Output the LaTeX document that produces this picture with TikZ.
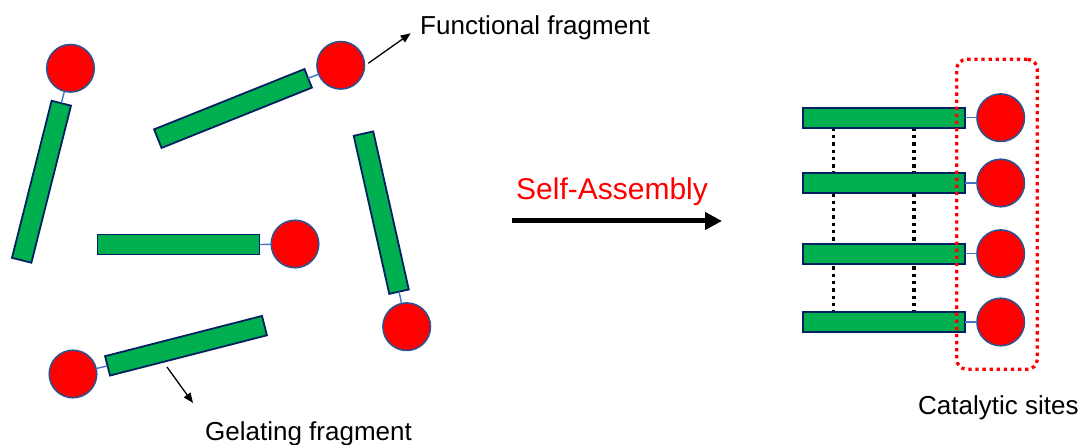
\documentclass[tikz,border=0pt]{standalone}
\usepackage{fontspec}
\setmainfont{Liberation Sans}
\usetikzlibrary{arrows.meta,calc,backgrounds}
\definecolor{rodgreen}{HTML}{00B050}
\definecolor{rodedge}{HTML}{002060}
\definecolor{balledge}{HTML}{2F528F}
\definecolor{linkblue}{HTML}{4472C4}
\begin{document}
\begin{tikzpicture}[x=1pt,y=1pt,
  rod/.style={draw=rodedge,fill=rodgreen,line width=1.8pt,minimum width=162pt,minimum height=20pt,inner sep=0pt,outer sep=0pt},
  ball/.style={circle,draw=balledge,fill=red,line width=1.6pt,minimum size=47.5pt,inner sep=0pt,outer sep=0pt},
  link/.style={draw=linkblue,line width=1.4pt},
  label/.style={font=\fontsize{26}{30}\selectfont,inner sep=0pt,anchor=base west},
  pointer/.style={draw=black,line width=1.3pt,-{Triangle[length=10pt,width=8pt]}},
  dotline/.style={draw=black,line width=3.5pt,dash pattern=on 3.5pt off 3.8pt},
  reddots/.style={draw=red,line width=3.3pt,dash pattern=on 3.3pt off 3.8pt,rounded corners=10pt,minimum width=80.6pt,minimum height=310pt,inner sep=0pt}]
\useasboundingbox (0,0) rectangle (1083,444);

% left scattered fragments
\node[rod,rotate=75.84] (r1) at (41.5,262.25) {};
\node[ball] (c1) at (70.5,375.7) {};
\draw[link] (r1.east) -- (c1);

\node[rod,rotate=21.86] (r2) at (233,335.5) {};
\node[ball] (c2) at (340.7,378.7) {};
\draw[link] (r2.east) -- (c2);

\node[rod] (r3) at (178.5,199.5) {};
\node[ball] (c3) at (295,200) {};
\draw[link] (r3.east) -- (c3);

\node[rod,rotate=-77.33] (r4) at (381.25,231.35) {};
\node[ball] (c4) at (406.7,117.3) {};
\draw[link] (r4.east) -- (c4);

\node[rod,rotate=14.38] (r5) at (186,98.25) {};
\node[ball] (c5) at (73,70) {};
\draw[link] (r5.west) -- (c5);

% labels with pointers
\node[label] (ff) at (420,409) {Functional fragment};
\coordinate (ffs) at (368.3,380.7);
\coordinate (ffe) at (410.7,410.7);
\draw[pointer] (ffs) -- (ffe);

\node[label] (gf) at (205,4) {Gelating fragment};
\coordinate (gfs) at (167,77);
\coordinate (gfe) at (193,41);
\draw[pointer] (gfs) -- (gfe);

% self-assembly arrow
\node[label,font=\fontsize{30}{34}\selectfont,text=red] (sa) at (516,244) {Self-Assembly};
\coordinate (sas) at (512,223);
\coordinate (sae) at (722,223);
\draw[line width=5pt,-{Triangle[length=17pt,width=17pt]}] (sas) -- (sae);

% assembled stack
\foreach \i/\y in {1/326.3,2/261,3/190.3,4/122}{
  \node[rod] (s\i) at (884.2,\y) {};
  \node[ball] (b\i) at (1000.7,\y) {};
  \draw[link] (s\i.east) -- (b\i);
}
\begin{scope}[on background layer]
\draw[dotline] ($(s1.south west)!0.188!(s1.south east)$) -- ($(s4.north west)!0.188!(s4.north east)$);
\draw[dotline] ($(s1.south west)!0.683!(s1.south east)$) -- ($(s4.north west)!0.683!(s4.north east)$);
\end{scope}
\node[reddots] (box) at (997,229.7) {};
\node[label] (cs) at (918,29.7) {Catalytic sites};
\end{tikzpicture}
\end{document}
